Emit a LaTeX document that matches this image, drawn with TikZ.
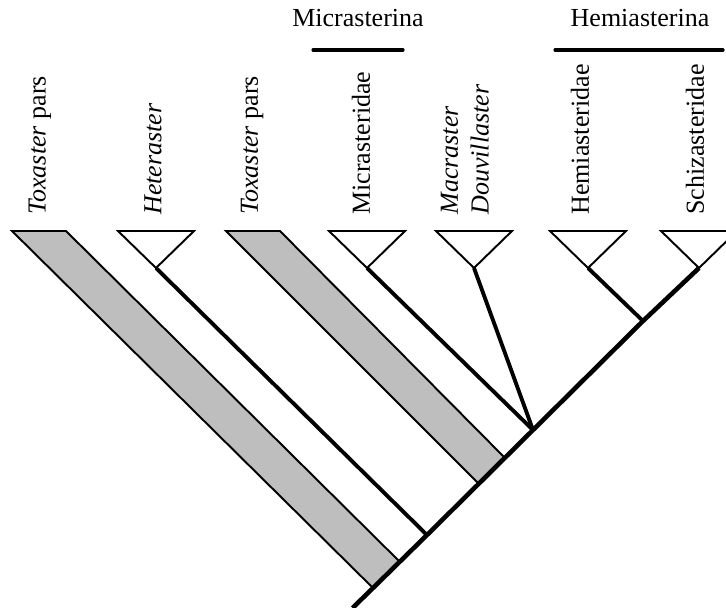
\documentclass[tikz,border=0pt]{standalone}
\usepackage{fontspec}
\setmainfont{Liberation Serif}
\usepackage{tikz}
\usetikzlibrary{arrows.meta,calc,positioning}
\definecolor{bandgray}{RGB}{190,190,190}

\tikzset{
 taxon/.style={rotate=90,anchor=west,inner sep=0pt,align=left,
  font=\fontsize{14.8}{17.5}\selectfont},
 group/.style={anchor=base,inner sep=0pt,font=\fontsize{14.8}{17.5}\selectfont},
 clade/.style={draw,fill=white,line width=1.1pt,line join=miter},
 band/.style={draw,fill=bandgray,line width=1.1pt,line join=miter},
 branch/.style={line width=2.2pt,line cap=butt},
 trunk/.style={line width=2.6pt,line cap=butt},
 bar/.style={line width=1.8pt}
}

\begin{document}
\begin{tikzpicture}[>=Stealth,line cap=round,line join=round]
 \useasboundingbox (0,0) rectangle (14.52,12.14);
 % Punkty na pniu drzewa.
 \coordinate (root) at (7.05,-0.02);
 \coordinate (toxAbl) at (7.46,0.38);
 \coordinate (toxAbr) at (8.00,0.90);
 \coordinate (hetjoin) at (8.54,1.44);
 \coordinate (toxBbl) at (9.56,2.48);
 \coordinate (toxBbr) at (10.08,3.00);
 \coordinate (micjoin) at (10.66,3.54);
 \coordinate (hemjoin) at (12.86,5.72);
 % Wierzchołki trójkątów.
 \coordinate (het) at (3.12,6.78);
 \coordinate (mic) at (7.34,6.78);
 \coordinate (mac) at (9.48,6.78);
 \coordinate (hem) at (11.76,6.78);
 \coordinate (sch) at (13.98,6.78);
 % Szare pasy: Toxaster pars.
 \path[band] (0.24,7.52) -- (1.32,7.52) -- (toxAbr) -- (toxAbl) -- cycle;
 \path[band] (4.52,7.52) -- (5.60,7.52) -- (toxBbr) -- (toxBbl) -- cycle;
 % Gałęzie.
 \draw[branch] (het) -- (hetjoin);
 \draw[branch] (mic) -- (micjoin);
 \draw[branch] (mac) -- (micjoin);
 \draw[branch] (hem) -- (hemjoin);
 \draw[trunk] (root) -- (toxAbl) -- (hetjoin) -- (micjoin) -- (hemjoin) -- (sch);
 % Trójkąty kladów.
 \path[clade] (het) -- ++(-0.76,0.74) -- ++(1.52,0) -- cycle;
 \path[clade] (mic) -- ++(-0.76,0.74) -- ++(1.52,0) -- cycle;
 \path[clade] (mac) -- ++(-0.76,0.74) -- ++(1.52,0) -- cycle;
 \path[clade] (hem) -- ++(-0.76,0.74) -- ++(1.52,0) -- cycle;
 \path[clade] (sch) -- ++(-0.76,0.74) -- ++(1.52,0) -- cycle;
 % Nazwy taksonów.
 \node[taxon] (toxA) at (0.80,7.84) {\textit{Toxaster} pars};
 \node[taxon] (heter) at (3.06,7.84) {\textit{Heteraster}};
 \node[taxon] (toxB) at (5.04,7.84) {\textit{Toxaster} pars};
 \node[taxon] (micr) at (7.22,7.84) {Micrasteridae};
 \node[taxon] (macr) at (9.30,7.84) {\textit{Macraster}\\\textit{Douvillaster}};
 \node[taxon] (hemi) at (11.60,7.84) {Hemiasteridae};
 \node[taxon] (schi) at (13.90,7.84) {Schizasteridae};
 % Podplemiona z kreską.
 \node[group] (micrina) at (7.16,11.60) {Micrasterina};
 \node[group] (hemina) at (12.80,11.60) {Hemiasterina};
 \draw[bar] (6.26,11.14) -- (8.06,11.14);
 \draw[bar] (11.10,11.14) -- (14.46,11.14);
\end{tikzpicture}
\end{document}
